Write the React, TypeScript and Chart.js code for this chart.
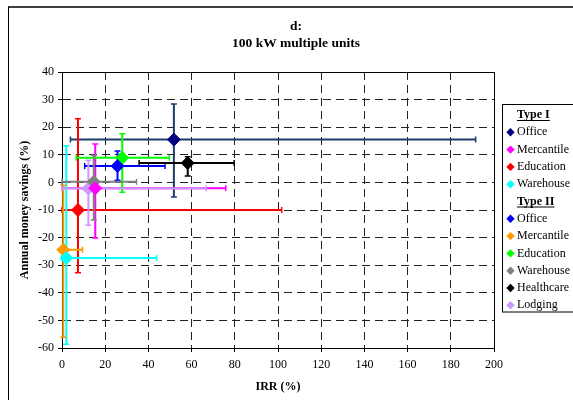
import { useEffect, useRef } from "react";
import { Chart, registerables } from "chart.js";

Chart.register(...registerables);

const FONT = "'Liberation Serif', 'Times New Roman', serif";

// Building types, grouped by unit type
const seriesNames = [
  "Office", "Mercantile", "Education", "Warehouse",
  "Office", "Mercantile", "Education", "Warehouse", "Healthcare", "Lodging",
];
const seriesGroups = [
  "Type I", "Type I", "Type I", "Type I",
  "Type II", "Type II", "Type II", "Type II", "Type II", "Type II",
];
const markerColors = [
  "#000080", "#FF00FF", "#FF0000", "#00FFFF",
  "#0000FF", "#FF9900", "#00FF00", "#808080", "#000000", "#CC99FF",
];
const whiskerColors = [
  "#1C3D6B", "#FF00FF", "#FF0000", "#00FFFF",
  "#0000FF", "#FF9900", "#00FF00", "#808080", "#000000", "#CC99FF",
];

// Mean IRR (%) and annual money savings (%)
const irr = [51.8, 15.4, 7.4, 2.0, 25.7, 0.6, 27.9, 14.7, 58.2, 12.2];
const savings = [15.5, -2.1, -10.0, -27.4, 5.9, -24.4, 8.9, 0.2, 7.0, -2.2];

// Ranges shown as error bars
const irrLow = [3.9, 0, 0, 0, 10.5, 0, 6.6, 0, 35.7, 0];
const irrHigh = [191.5, 75.8, 101.7, 43.8, 47.7, 9.5, 49.7, 34.5, 79.7, 66.8];
const savingsLow = [-5.3, -20.1, -32.7, -58.6, 0.8, -56.1, -3.6, -13.6, 2.3, -15.5];
const savingsHigh = [28.4, 13.9, 23.1, 13.3, 11.4, -1.0, 17.6, 9.8, 9.3, 8.0];

const xAxis = { min: 0, max: 200, step: 20 };
const yAxis = { min: -60, max: 40, step: 10 };

const titleLines = ["d:", "100 kW multiple units"];
const xTitle = "IRR (%)";
const yTitle = "Annual money savings (%)";

function drawDiamond(ctx: CanvasRenderingContext2D, x: number, y: number, r: number, color: string) {
  ctx.beginPath();
  ctx.moveTo(x - r, y);
  ctx.lineTo(x, y - r);
  ctx.lineTo(x + r, y);
  ctx.lineTo(x, y + r);
  ctx.closePath();
  ctx.fillStyle = color;
  ctx.fill();
}

const decorPlugin = {
  id: "decor",
  beforeDraw(chart: any) {
    const ctx: CanvasRenderingContext2D = chart.ctx;
    ctx.save();
    ctx.fillStyle = "#fff";
    ctx.fillRect(0, 0, chart.width, chart.height);
    // figure frame
    ctx.strokeStyle = "#404040";
    ctx.lineWidth = 2;
    ctx.beginPath();
    ctx.moveTo(8, 7);
    ctx.lineTo(chart.width, 7);
    ctx.stroke();
    ctx.strokeStyle = "#000";
    ctx.lineWidth = 1;
    ctx.beginPath();
    ctx.moveTo(8.5, 7);
    ctx.lineTo(8.5, chart.height);
    ctx.stroke();
    ctx.restore();
  },
  beforeDatasetsDraw(chart: any) {
    const ctx: CanvasRenderingContext2D = chart.ctx;
    const { left, top, right, bottom } = chart.chartArea;
    const xs = chart.scales.x;
    const ys = chart.scales.y;
    ctx.save();
    // plot frame
    ctx.strokeStyle = "#000";
    ctx.lineWidth = 1;
    ctx.strokeRect(left + 0.5, top + 0.5, right - left, bottom - top);
    // error bars
    ctx.beginPath();
    ctx.rect(left - 2, top, right - left + 4, bottom - top + 2);
    ctx.clip();
    const cap = 3;
    for (let i = 0; i < irr.length; i++) {
      const px = xs.getPixelForValue(irr[i]);
      const py = ys.getPixelForValue(savings[i]);
      const x1 = xs.getPixelForValue(irrLow[i]);
      const x2 = xs.getPixelForValue(irrHigh[i]);
      const y1 = ys.getPixelForValue(savingsLow[i]);
      const y2 = ys.getPixelForValue(savingsHigh[i]);
      ctx.strokeStyle = whiskerColors[i];
      ctx.lineWidth = 2;
      ctx.beginPath();
      ctx.moveTo(x1, py);
      ctx.lineTo(x2, py);
      ctx.moveTo(px, y1);
      ctx.lineTo(px, y2);
      ctx.stroke();
      ctx.lineWidth = 1.5;
      ctx.beginPath();
      ctx.moveTo(x1, py - cap);
      ctx.lineTo(x1, py + cap);
      ctx.moveTo(x2, py - cap);
      ctx.lineTo(x2, py + cap);
      ctx.moveTo(px - cap, y1);
      ctx.lineTo(px + cap, y1);
      ctx.moveTo(px - cap, y2);
      ctx.lineTo(px + cap, y2);
      ctx.stroke();
    }
    ctx.restore();
  },
  afterDraw(chart: any) {
    const ctx: CanvasRenderingContext2D = chart.ctx;
    const { left, top, right, bottom } = chart.chartArea;
    ctx.save();
    ctx.fillStyle = "#000";
    ctx.textBaseline = "middle";

    // title
    ctx.font = `bold 13.5px ${FONT}`;
    ctx.textAlign = "center";
    ctx.fillText(titleLines[0], 296, 27);
    ctx.fillText(titleLines[1], 296, 44);

    // axis titles
    ctx.font = `bold 12px ${FONT}`;
    ctx.fillText(xTitle, (left + right) / 2, 387);
    ctx.save();
    ctx.translate(25, (top + bottom) / 2);
    ctx.rotate(-Math.PI / 2);
    ctx.fillText(yTitle, 0, 0);
    ctx.restore();

    // legend
    const bx = 502.5;
    const by = 104.5;
    ctx.strokeStyle = "#000";
    ctx.lineWidth = 1;
    ctx.strokeRect(bx, by, 120, 207.5);
    const rowH = 17.3;
    let y = 115;
    let group = "";
    ctx.textAlign = "left";
    for (let i = 0; i < seriesNames.length; i++) {
      if (seriesGroups[i] !== group) {
        group = seriesGroups[i];
        ctx.font = `bold 12px ${FONT}`;
        ctx.fillStyle = "#000";
        ctx.fillText(group, 517, y);
        const w = ctx.measureText(group).width;
        ctx.fillRect(517, y + 5, w, 1);
        y += rowH;
      }
      drawDiamond(ctx, 510.5, y, 4.2, markerColors[i]);
      ctx.font = `12px ${FONT}`;
      ctx.fillStyle = "#000";
      ctx.fillText(seriesNames[i], 517, y);
      y += rowH;
    }
    ctx.restore();
  },
};

export default function App() {
  const canvasRef = useRef<HTMLCanvasElement | null>(null);

  useEffect(() => {
    if (!canvasRef.current) return;
    const datasets = irr.map((x, i) => ({
      label: `${seriesGroups[i]} ${seriesNames[i]}`,
      data: [{ x, y: savings[i] }],
      pointStyle: "rectRot" as const,
      pointRadius: 6.5,
      pointBackgroundColor: markerColors[i],
      pointBorderColor: markerColors[i],
      pointBorderWidth: 1,
      showLine: false,
    }));
    const tickFont = { family: FONT, size: 12 };
    const chart = new Chart(canvasRef.current, {
      type: "scatter",
      data: { datasets },
      options: {
        animation: false,
        responsive: false,
        devicePixelRatio: 1,
        clip: false,
        layout: { padding: { top: 72, right: 79, left: 0, bottom: 0 } },
        plugins: {
          legend: { display: false },
          title: { display: false },
          tooltip: { enabled: false },
        },
        scales: {
          x: {
            type: "linear",
            min: xAxis.min,
            max: xAxis.max,
            ticks: { stepSize: xAxis.step, font: tickFont, color: "#000", padding: 6, maxRotation: 0 },
            grid: { color: "#222", lineWidth: 1, tickLength: 4, tickColor: "#000", tickBorderDash: [] },
            border: { display: true, color: "#000", width: 1, dash: [8, 5] },
            afterFit: (s: any) => { s.height = 52; },
          },
          y: {
            type: "linear",
            min: yAxis.min,
            max: yAxis.max,
            ticks: { stepSize: yAxis.step, font: tickFont, color: "#000", padding: 4 },
            grid: { color: "#222", lineWidth: 1, tickLength: 4, tickColor: "#000", tickBorderDash: [] },
            border: { display: true, color: "#000", width: 1, dash: [8, 5] },
            afterFit: (s: any) => { s.width = 62; },
          },
        },
      },
      plugins: [decorPlugin],
    });
    return () => chart.destroy();
  }, []);

  return (
    <div style={{ position: "absolute", left: 0, top: 0, width: 573, height: 400 }}>
      <canvas ref={canvasRef} width={573} height={400} style={{ display: "block" }} />
    </div>
  );
}
